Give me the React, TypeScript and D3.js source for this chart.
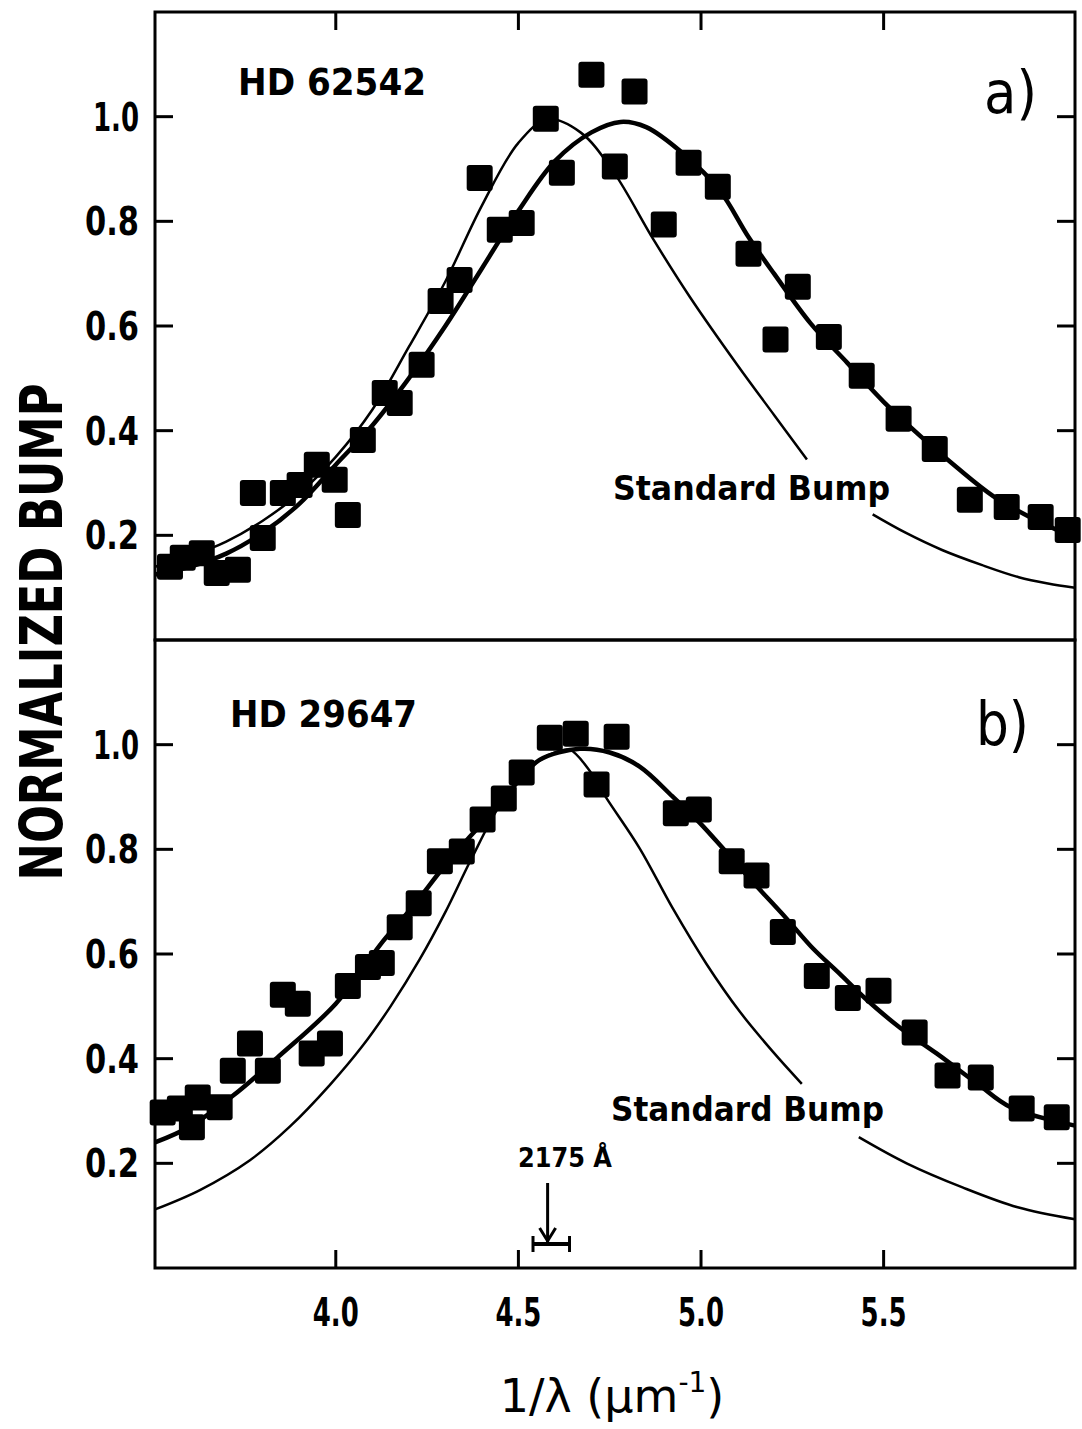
import * as d3 from 'd3';

type Pt = [number, number];

const xTicks = [4.0, 4.5, 5.0, 5.5];
const yTicks = [0.2, 0.4, 0.6, 0.8, 1.0];

// panel a) HD 62542
const squaresA: Pt[] = [
  [3.546, 0.14], [3.581, 0.157], [3.633, 0.166], [3.674, 0.128], [3.732, 0.134],
  [3.773, 0.281], [3.8, 0.195], [3.855, 0.281], [3.901, 0.296], [3.948, 0.335],
  [3.997, 0.306], [4.033, 0.239], [4.074, 0.382], [4.134, 0.472], [4.175, 0.453],
  [4.235, 0.526], [4.287, 0.648], [4.339, 0.688], [4.394, 0.883], [4.449, 0.784],
  [4.509, 0.797], [4.575, 0.996], [4.619, 0.893], [4.7, 1.08], [4.764, 0.905],
  [4.818, 1.048], [4.898, 0.794], [4.966, 0.912], [5.046, 0.866], [5.13, 0.738],
  [5.204, 0.574], [5.265, 0.675], [5.35, 0.579], [5.44, 0.505], [5.541, 0.423],
  [5.64, 0.365], [5.736, 0.268], [5.837, 0.254], [5.93, 0.235], [6.004, 0.21],
];
const fitA: Pt[] = [
  [3.505, 0.125], [3.6, 0.14], [3.7, 0.165], [3.8, 0.205], [3.9, 0.26], [4.0, 0.335],
  [4.1, 0.41], [4.2, 0.5], [4.3, 0.6], [4.4, 0.71], [4.5, 0.82], [4.6, 0.915],
  [4.7, 0.97], [4.78, 0.99], [4.85, 0.98], [4.95, 0.93], [5.05, 0.86], [5.13, 0.77],
  [5.2, 0.7], [5.3, 0.605], [5.4, 0.53], [5.5, 0.455], [5.6, 0.39], [5.7, 0.33],
  [5.8, 0.275], [5.9, 0.235], [6.024, 0.195],
];
const standardA1: Pt[] = [
  [3.505, 0.14], [3.6, 0.16], [3.7, 0.188], [3.8, 0.228], [3.9, 0.28], [4.0, 0.35],
  [4.1, 0.44], [4.2, 0.56], [4.3, 0.685], [4.4, 0.83], [4.5, 0.95], [4.58, 0.995],
  [4.67, 0.97], [4.76, 0.895], [4.87, 0.765], [4.97, 0.655], [5.1, 0.525], [5.2, 0.43],
  [5.29, 0.345],
];
const standardA2: Pt[] = [
  [5.47, 0.24], [5.56, 0.205], [5.66, 0.172], [5.77, 0.143], [5.87, 0.12], [5.95, 0.108],
  [6.024, 0.1],
];

// panel b) HD 29647
const squaresB: Pt[] = [
  [3.526, 0.297], [3.573, 0.305], [3.606, 0.269], [3.622, 0.326], [3.682, 0.307],
  [3.718, 0.377], [3.765, 0.429], [3.814, 0.377], [3.855, 0.522], [3.896, 0.505],
  [3.934, 0.41], [3.984, 0.429], [4.033, 0.539], [4.088, 0.575], [4.126, 0.583],
  [4.175, 0.651], [4.227, 0.697], [4.285, 0.777], [4.345, 0.796], [4.402, 0.857],
  [4.46, 0.897], [4.509, 0.947], [4.586, 1.013], [4.657, 1.021], [4.714, 0.924],
  [4.769, 1.015], [4.931, 0.869], [4.994, 0.876], [5.084, 0.777], [5.152, 0.75],
  [5.224, 0.642], [5.317, 0.558], [5.402, 0.516], [5.486, 0.53], [5.585, 0.45],
  [5.675, 0.368], [5.766, 0.364], [5.878, 0.305], [5.974, 0.288],
];
const fitB: Pt[] = [
  [3.505, 0.24], [3.6, 0.27], [3.718, 0.329], [3.84, 0.402], [4.0, 0.505], [4.13, 0.625],
  [4.21, 0.69], [4.3, 0.77], [4.4, 0.85], [4.5, 0.93], [4.558, 0.971], [4.668, 0.992],
  [4.75, 0.985], [4.832, 0.958], [4.922, 0.901], [4.996, 0.851], [5.07, 0.794], [5.152, 0.73],
  [5.235, 0.667], [5.306, 0.611], [5.38, 0.562], [5.45, 0.515], [5.545, 0.459], [5.645, 0.41],
  [5.757, 0.352], [5.848, 0.307], [6.024, 0.272],
];
const standardB1: Pt[] = [
  [3.505, 0.112], [3.628, 0.149], [3.765, 0.206], [3.874, 0.27], [3.984, 0.35], [4.074, 0.425],
  [4.15, 0.5], [4.23, 0.59], [4.3, 0.68], [4.37, 0.78], [4.45, 0.885], [4.53, 0.955],
  [4.6, 0.985], [4.641, 0.99], [4.69, 0.955], [4.742, 0.897], [4.832, 0.802], [4.922, 0.688],
  [5.015, 0.581], [5.106, 0.49], [5.196, 0.414], [5.276, 0.352],
];
const standardB2: Pt[] = [
  [5.432, 0.25], [5.563, 0.2], [5.716, 0.154], [5.867, 0.116], [6.024, 0.093],
];

// 2175 A marker
const bumpCenter = 4.58;
const bumpRange: Pt = [4.54, 4.64];

const W = 1082;
const H = 1429;
const left = 155;
const right = 1075;
const font = 'DejaVu Sans';

const x = d3.scaleLinear().domain([3.505, 6.024]).range([left, right]);
const yA = d3.scaleLinear().domain([0, 1.2]).range([640, 12]);
const yB = d3.scaleLinear().domain([0, 1.2]).range([1268, 640]);

function Panel({
  y, squares, fit, standard, topTicks, bottomTicks,
}: {
  y: d3.ScaleLinear<number, number>;
  squares: Pt[];
  fit: Pt[];
  standard: Pt[][];
  topTicks: boolean;
  bottomTicks: boolean;
}) {
  const line = d3
    .line<Pt>()
    .x((d) => x(d[0]))
    .y((d) => y(d[1]))
    .curve(d3.curveCatmullRom.alpha(0.5));
  const [y0, y1] = y.range();
  const tick = 18;
  return (
    <g>
      {squares.map((d, i) => (
        <rect key={i} x={x(d[0]) - 13} y={y(d[1]) - 13} width={26} height={26} rx={3} fill="#000" />
      ))}
      <path d={line(fit) || ''} fill="none" stroke="#000" strokeWidth={4.5} />
      {standard.map((seg, i) => (
        <path key={i} d={line(seg) || ''} fill="none" stroke="#000" strokeWidth={2.5} />
      ))}
      <rect x={left} y={y1} width={right - left} height={y0 - y1} fill="none" stroke="#000" strokeWidth={3} />
      {yTicks.map((t) => (
        <g key={t}>
          <line x1={left} x2={left + tick} y1={y(t)} y2={y(t)} stroke="#000" strokeWidth={3} />
          <line x1={right - tick} x2={right} y1={y(t)} y2={y(t)} stroke="#000" strokeWidth={3} />
          <text
            x={left - 16}
            y={y(t) + 14}
            textAnchor="end"
            fontFamily={font}
            fontWeight="bold"
            fontSize={39}
            textLength={t === 1 ? 46 : 54}
            lengthAdjust="spacingAndGlyphs"
          >
            {t.toFixed(1)}
          </text>
        </g>
      ))}
      {topTicks &&
        xTicks.map((t) => (
          <line key={t} x1={x(t)} x2={x(t)} y1={y1} y2={y1 + tick} stroke="#000" strokeWidth={3} />
        ))}
      {bottomTicks &&
        xTicks.map((t) => (
          <g key={t}>
            <line x1={x(t)} x2={x(t)} y1={y0} y2={y0 - tick} stroke="#000" strokeWidth={3} />
            <text
              x={x(t)}
              y={y0 + 58}
              textAnchor="middle"
              fontFamily={font}
              fontWeight="bold"
              fontSize={39}
              textLength={46}
              lengthAdjust="spacingAndGlyphs"
            >
              {t.toFixed(1)}
            </text>
          </g>
        ))}
    </g>
  );
}

export default function App() {
  const ax = x(bumpCenter);
  const barY = yB(0) - 24;
  return (
    <svg
      width={W}
      height={H}
      style={{ position: 'absolute', left: 0, top: 0, background: '#fff' }}
    >
      <rect width={W} height={H} fill="#fff" />
      <Panel y={yA} squares={squaresA} fit={fitA} standard={[standardA1, standardA2]} topTicks bottomTicks={false} />
      <Panel y={yB} squares={squaresB} fit={fitB} standard={[standardB1, standardB2]} topTicks={false} bottomTicks />

      <text x={238} y={95} fontFamily={font} fontWeight="bold" fontSize={38} textLength={188} lengthAdjust="spacingAndGlyphs">
        HD 62542
      </text>
      <text x={230} y={727} fontFamily={font} fontWeight="bold" fontSize={38} textLength={187} lengthAdjust="spacingAndGlyphs">
        HD 29647
      </text>
      <text x={984} y={113} fontFamily={font} fontSize={58} textLength={53} lengthAdjust="spacingAndGlyphs">
        a)
      </text>
      <text x={976} y={745} fontFamily={font} fontSize={60} textLength={53} lengthAdjust="spacingAndGlyphs">
        b)
      </text>
      <text x={613} y={500} fontFamily={font} fontWeight="bold" fontSize={34} textLength={277} lengthAdjust="spacingAndGlyphs">
        Standard Bump
      </text>
      <text x={611} y={1121} fontFamily={font} fontWeight="bold" fontSize={34} textLength={273} lengthAdjust="spacingAndGlyphs">
        Standard Bump
      </text>

      <text x={518} y={1167} fontFamily={font} fontWeight="bold" fontSize={27} textLength={94} lengthAdjust="spacingAndGlyphs">
        2175 Å
      </text>
      <line x1={ax} x2={ax} y1={1183} y2={barY - 2} stroke="#000" strokeWidth={3} />
      <polyline points={`${ax - 8},${barY - 16} ${ax},${barY - 3} ${ax + 8},${barY - 16}`} fill="none" stroke="#000" strokeWidth={3} />
      <line x1={x(bumpRange[0])} x2={x(bumpRange[1])} y1={barY} y2={barY} stroke="#000" strokeWidth={4} />
      <line x1={x(bumpRange[0])} x2={x(bumpRange[0])} y1={barY - 8} y2={barY + 8} stroke="#000" strokeWidth={3} />
      <line x1={x(bumpRange[1])} x2={x(bumpRange[1])} y1={barY - 8} y2={barY + 8} stroke="#000" strokeWidth={3} />

      <text
        transform="translate(62,632) rotate(-90)"
        textAnchor="middle"
        fontFamily={font}
        fontWeight="bold"
        fontSize={58}
        textLength={497}
        lengthAdjust="spacingAndGlyphs"
      >
        NORMALIZED BUMP
      </text>
      <text x={612} y={1412} textAnchor="middle" fontFamily={font} fontSize={46}>
        1/λ (μm<tspan fontSize={28} dy={-20}>-1</tspan>
        <tspan dy={20}>)</tspan>
      </text>
    </svg>
  );
}
